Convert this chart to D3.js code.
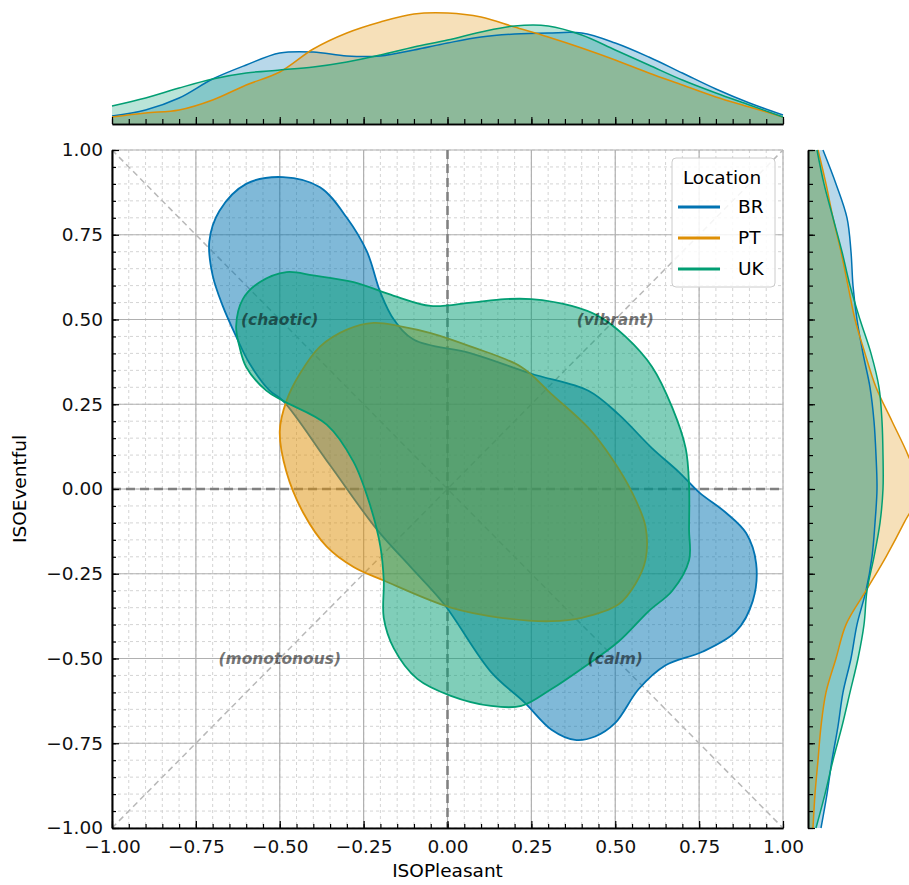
<!DOCTYPE html>
<html>
<head>
<meta charset="utf-8">
<script src="https://cdn.jsdelivr.net/npm/d3@7"></script>
<style>
  body { margin: 0; background: #fff; }
  svg { display: block; font-family: "DejaVu Sans", sans-serif; }
</style>
</head>
<body>
<svg id="chart" width="909" height="885"></svg>
<script>
// ---- data ----
const locations = ["BR", "PT", "UK"];
const colors = ["#0173b2", "#de8f05", "#029e73"];
const majorTicks = [-1, -0.75, -0.5, -0.25, 0, 0.25, 0.5, 0.75, 1];
const kdeGrid = [-1, -0.9, -0.8, -0.7, -0.6, -0.5, -0.4, -0.3, -0.2, -0.1, 0,
                 0.1, 0.2, 0.3, 0.4, 0.5, 0.6, 0.7, 0.8, 0.9, 1];

// marginal density of ISOPleasant (top)
const brPleasant = [0.04, 0.10, 0.22, 0.41, 0.55, 0.67, 0.68, 0.64, 0.64, 0.70, 0.77,
                    0.83, 0.86, 0.87, 0.87, 0.77, 0.63, 0.47, 0.31, 0.17, 0.05];
const ptPleasant = [0.03, 0.07, 0.10, 0.20, 0.35, 0.48, 0.71, 0.87, 0.98, 1.06, 1.07,
                    1.03, 0.93, 0.83, 0.72, 0.60, 0.47, 0.35, 0.23, 0.13, 0.03];
const ukPleasant = [0.14, 0.22, 0.32, 0.41, 0.47, 0.50, 0.53, 0.58, 0.65, 0.73, 0.80,
                    0.88, 0.94, 0.94, 0.85, 0.70, 0.55, 0.40, 0.27, 0.15, 0.03];

// marginal density of ISOEventful (right)
const brEventful = [0.13, 0.19, 0.24, 0.30, 0.35, 0.43, 0.49, 0.58, 0.64, 0.67, 0.69,
                    0.68, 0.66, 0.62, 0.55, 0.49, 0.45, 0.43, 0.39, 0.28, 0.15];
const ptEventful = [0.05, 0.07, 0.10, 0.13, 0.18, 0.28, 0.38, 0.58, 0.78, 0.96, 1.12,
                    1.00, 0.84, 0.68, 0.57, 0.47, 0.40, 0.33, 0.25, 0.18, 0.10];
const ukEventful = [0.08, 0.17, 0.25, 0.34, 0.42, 0.50, 0.56, 0.59, 0.66, 0.72, 0.75,
                    0.75, 0.74, 0.71, 0.63, 0.52, 0.42, 0.34, 0.25, 0.16, 0.09];

// outer density contour of each location, [ISOPleasant, ISOEventful]
const brContour = [[-0.49, 0.92], [-0.38, 0.89], [-0.30, 0.80], [-0.24, 0.70], [-0.20, 0.58],
  [-0.16, 0.50], [-0.10, 0.44], [0.07, 0.40], [0.25, 0.34], [0.42, 0.29], [0.51, 0.22],
  [0.61, 0.12], [0.69, 0.05], [0.75, -0.01], [0.83, -0.07], [0.89, -0.13], [0.92, -0.22],
  [0.91, -0.33], [0.86, -0.42], [0.76, -0.48], [0.65, -0.52], [0.57, -0.59], [0.50, -0.69],
  [0.44, -0.73], [0.38, -0.74], [0.31, -0.71], [0.23, -0.63], [0.13, -0.54], [-0.01, -0.34],
  [-0.11, -0.23], [-0.21, -0.12], [-0.35, 0.07], [-0.49, 0.26], [-0.53, 0.29], [-0.59, 0.37],
  [-0.63, 0.45], [-0.67, 0.54], [-0.70, 0.63], [-0.71, 0.73], [-0.68, 0.82], [-0.60, 0.90]];
const ptContour = [[-0.22, 0.49], [-0.14, 0.48], [-0.05, 0.46], [0.07, 0.42], [0.22, 0.36],
  [0.31, 0.28], [0.42, 0.18], [0.49, 0.09], [0.55, -0.01], [0.59, -0.11], [0.59, -0.21],
  [0.56, -0.28], [0.51, -0.34], [0.40, -0.38], [0.31, -0.39], [0.16, -0.38], [0.01, -0.35],
  [-0.19, -0.27], [-0.28, -0.23], [-0.36, -0.17], [-0.43, -0.07], [-0.48, 0.05], [-0.50, 0.17],
  [-0.48, 0.26], [-0.44, 0.34], [-0.38, 0.42], [-0.30, 0.47]];
const ukContour = [[-0.48, 0.64], [-0.40, 0.63], [-0.28, 0.61], [-0.16, 0.57], [-0.05, 0.54],
  [0.07, 0.55], [0.17, 0.56], [0.25, 0.56], [0.37, 0.54], [0.45, 0.51], [0.53, 0.45],
  [0.61, 0.36], [0.67, 0.24], [0.71, 0.12], [0.72, 0.01], [0.72, -0.12], [0.72, -0.21],
  [0.67, -0.30], [0.60, -0.36], [0.51, -0.45], [0.40, -0.53], [0.31, -0.59], [0.22, -0.64],
  [0.13, -0.64], [0.01, -0.61], [-0.09, -0.56], [-0.16, -0.47], [-0.19, -0.38], [-0.19, -0.27],
  [-0.20, -0.17], [-0.23, -0.05], [-0.28, 0.08], [-0.36, 0.19], [-0.49, 0.26], [-0.54, 0.29],
  [-0.60, 0.36], [-0.62, 0.42], [-0.63, 0.48], [-0.61, 0.56], [-0.56, 0.61]];

const quadrantLabels = ["(chaotic)", "(vibrant)", "(monotonous)", "(calm)"];
const quadrantPos = [[-0.5, 0.5], [0.5, 0.5], [-0.5, -0.5], [0.5, -0.5]];

const pleasantSeries = [brPleasant, ptPleasant, ukPleasant];
const eventfulSeries = [brEventful, ptEventful, ukEventful];
const contours = [brContour, ptContour, ukContour];

// ---- layout ----
const svg = d3.select("#chart");
const x = d3.scaleLinear().domain([-1, 1]).range([112, 783]);
const y = d3.scaleLinear().domain([-1, 1]).range([828, 150]);
const topY = d3.scaleLinear().domain([0, 1]).range([120, 20]);
const sideX = d3.scaleLinear().domain([0, 1]).range([808, 908]);
const fmt = d3.format(".2f");
const minorTicks = x.ticks(40);

// ---- main joint plot ----
const main = svg.append("g");

// minor grid
main.append("g").selectAll("line")
  .data(minorTicks).enter().append("line")
  .attr("x1", d => x(d)).attr("x2", d => x(d))
  .attr("y1", y(1)).attr("y2", y(-1))
  .attr("stroke", "#cfcfcf").attr("stroke-dasharray", "3,3").attr("stroke-width", 0.9);
main.append("g").selectAll("line")
  .data(minorTicks).enter().append("line")
  .attr("y1", d => y(d)).attr("y2", d => y(d))
  .attr("x1", x(-1)).attr("x2", x(1))
  .attr("stroke", "#cfcfcf").attr("stroke-dasharray", "3,3").attr("stroke-width", 0.9);

// major grid
main.append("g").selectAll("line")
  .data(majorTicks).enter().append("line")
  .attr("x1", d => x(d)).attr("x2", d => x(d))
  .attr("y1", y(1)).attr("y2", y(-1))
  .attr("stroke", "#b0b0b0").attr("stroke-width", 1.2);
main.append("g").selectAll("line")
  .data(majorTicks).enter().append("line")
  .attr("y1", d => y(d)).attr("y2", d => y(d))
  .attr("x1", x(-1)).attr("x2", x(1))
  .attr("stroke", "#b0b0b0").attr("stroke-width", 1.2);

// diagonals
main.append("line")
  .attr("x1", x(-1)).attr("y1", y(1)).attr("x2", x(1)).attr("y2", y(-1))
  .attr("stroke", "#b8b8b8").attr("stroke-width", 1.5).attr("stroke-dasharray", "6,4");
main.append("line")
  .attr("x1", x(-1)).attr("y1", y(-1)).attr("x2", x(1)).attr("y2", y(1))
  .attr("stroke", "#b8b8b8").attr("stroke-width", 1.5).attr("stroke-dasharray", "6,4");

// zero lines
main.append("line")
  .attr("x1", x(0)).attr("x2", x(0)).attr("y1", y(1)).attr("y2", y(-1))
  .attr("stroke", "#808080").attr("stroke-width", 2.5).attr("stroke-dasharray", "9,5");
main.append("line")
  .attr("y1", y(0)).attr("y2", y(0)).attr("x1", x(-1)).attr("x2", x(1))
  .attr("stroke", "#808080").attr("stroke-width", 2.5).attr("stroke-dasharray", "9,5");

// density contours
const contourLine = d3.line()
  .x(d => x(d[0])).y(d => y(d[1]))
  .curve(d3.curveCatmullRomClosed.alpha(0.5));

main.append("g").selectAll("path")
  .data(contours).enter().append("path")
  .attr("d", d => contourLine(d))
  .attr("fill", (d, i) => colors[i]).attr("fill-opacity", 0.5)
  .attr("stroke", (d, i) => colors[i]).attr("stroke-width", 1.8);

// quadrant labels
main.append("g").selectAll("text")
  .data(quadrantLabels).enter().append("text")
  .attr("x", (d, i) => x(quadrantPos[i][0]))
  .attr("y", (d, i) => y(quadrantPos[i][1]))
  .attr("dy", "0.35em")
  .attr("text-anchor", "middle")
  .style("font-size", "15.5px").style("font-weight", "bold").style("font-style", "italic")
  .attr("fill", "#000").attr("fill-opacity", 0.55)
  .text(d => d);

// axes with inward ticks
const xAxis = main.append("g").attr("transform", `translate(0,${y(-1)})`)
  .call(d3.axisBottom(x).tickValues(majorTicks).tickFormat(fmt).tickSizeInner(-7).tickSizeOuter(0).tickPadding(12));
const xMinor = main.append("g").attr("transform", `translate(0,${y(-1)})`)
  .call(d3.axisBottom(x).tickValues(minorTicks).tickFormat("").tickSizeInner(-4).tickSizeOuter(0));
const yAxis = main.append("g").attr("transform", `translate(${x(-1)},0)`)
  .call(d3.axisLeft(y).tickValues(majorTicks).tickFormat(fmt).tickSizeInner(-7).tickSizeOuter(0).tickPadding(9));
const yMinor = main.append("g").attr("transform", `translate(${x(-1)},0)`)
  .call(d3.axisLeft(y).tickValues(minorTicks).tickFormat("").tickSizeInner(-4).tickSizeOuter(0));

[xAxis, xMinor, yAxis, yMinor].forEach(g => {
  g.select(".domain").attr("stroke", "#000").attr("stroke-width", 1.6);
  g.selectAll(".tick line").attr("stroke", "#000").attr("stroke-width", 1.2);
  g.selectAll(".tick text").style("font-size", "18.5px").style("font-family", "DejaVu Sans").attr("fill", "#111");
});

// axis titles
svg.append("text")
  .attr("x", x(0)).attr("y", 877)
  .attr("text-anchor", "middle")
  .style("font-size", "18.5px")
  .text("ISOPleasant");
svg.append("text")
  .attr("transform", `translate(26,${y(0)}) rotate(-90)`)
  .attr("text-anchor", "middle")
  .style("font-size", "18.5px")
  .text("ISOEventful");

// legend
const legend = svg.append("g").attr("transform", "translate(672,158)");
legend.append("rect")
  .attr("width", 103).attr("height", 129).attr("rx", 4)
  .attr("fill", "#fff").attr("fill-opacity", 0.85)
  .attr("stroke", "#cccccc");
legend.append("text")
  .attr("x", 50).attr("y", 26).attr("text-anchor", "middle")
  .style("font-size", "18.5px").text("Location");
const entries = legend.selectAll("g.entry")
  .data(locations).enter().append("g")
  .attr("transform", (d, i) => `translate(0,${49 + i * 31})`);
entries.append("line")
  .attr("x1", 6).attr("x2", 48)
  .attr("stroke", (d, i) => colors[i]).attr("stroke-width", 3);
entries.append("text")
  .attr("x", 66).attr("dy", "0.35em")
  .style("font-size", "18.5px").text(d => d);

// ---- top marginal ----
const topG = svg.append("g");
const topArea = d3.area()
  .x((d, i) => x(kdeGrid[i])).y0(124).y1(d => topY(d))
  .curve(d3.curveCatmullRom.alpha(0.5));
const topLine = d3.line()
  .x((d, i) => x(kdeGrid[i])).y(d => topY(d))
  .curve(d3.curveCatmullRom.alpha(0.5));
topG.selectAll("path.area")
  .data(pleasantSeries).enter().append("path")
  .attr("d", d => topArea(d))
  .attr("fill", (d, i) => colors[i]).attr("fill-opacity", 0.28);
topG.selectAll("path.line")
  .data(pleasantSeries).enter().append("path")
  .attr("d", d => topLine(d))
  .attr("fill", "none").attr("stroke", (d, i) => colors[i]).attr("stroke-width", 1.5);
const topAxis = topG.append("g").attr("transform", "translate(0,124)")
  .call(d3.axisBottom(x).tickValues(majorTicks).tickFormat("").tickSizeInner(-7).tickSizeOuter(0));
const topMinor = topG.append("g").attr("transform", "translate(0,124)")
  .call(d3.axisBottom(x).tickValues(minorTicks).tickFormat("").tickSizeInner(-5).tickSizeOuter(0));

// ---- right marginal ----
const sideG = svg.append("g");
const sideArea = d3.area()
  .y((d, i) => y(kdeGrid[i])).x0(808).x1(d => sideX(d))
  .curve(d3.curveCatmullRom.alpha(0.5));
const sideLine = d3.line()
  .y((d, i) => y(kdeGrid[i])).x(d => sideX(d))
  .curve(d3.curveCatmullRom.alpha(0.5));
sideG.selectAll("path.area")
  .data(eventfulSeries).enter().append("path")
  .attr("d", d => sideArea(d))
  .attr("fill", (d, i) => colors[i]).attr("fill-opacity", 0.28);
sideG.selectAll("path.line")
  .data(eventfulSeries).enter().append("path")
  .attr("d", d => sideLine(d))
  .attr("fill", "none").attr("stroke", (d, i) => colors[i]).attr("stroke-width", 1.5);
const sideAxis = sideG.append("g").attr("transform", "translate(808,0)")
  .call(d3.axisLeft(y).tickValues(majorTicks).tickFormat("").tickSizeInner(-7).tickSizeOuter(0));
const sideMinor = sideG.append("g").attr("transform", "translate(808,0)")
  .call(d3.axisLeft(y).tickValues(minorTicks).tickFormat("").tickSizeInner(-5).tickSizeOuter(0));

[topAxis, topMinor, sideAxis, sideMinor].forEach(g => {
  g.select(".domain").attr("stroke", "#000").attr("stroke-width", 1.6);
  g.selectAll(".tick line").attr("stroke", "#000").attr("stroke-width", 1.2);
});
</script>
</body>
</html>
